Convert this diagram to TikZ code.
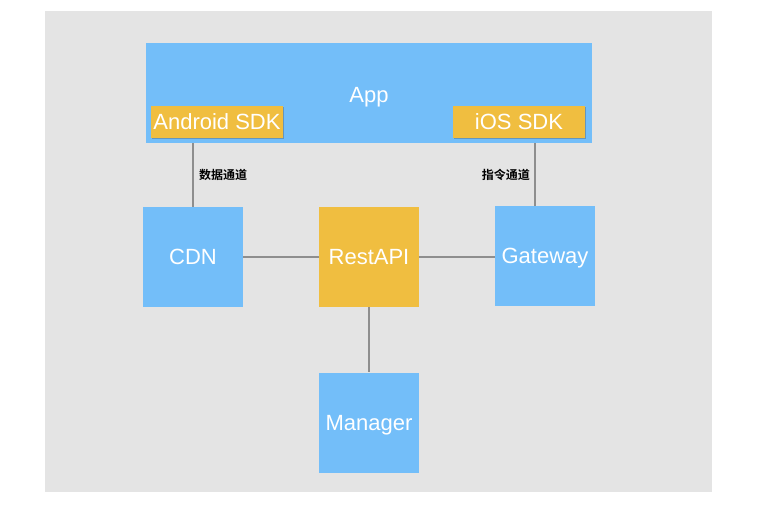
\documentclass[tikz,border=0pt]{standalone}
\usepackage{fontspec}
\setmainfont{Liberation Sans}
\newfontfamily\cjk{Noto Sans CJK SC}[BoldFont={* Bold}]
\usetikzlibrary{shadows}
\definecolor{bgc}{RGB}{228,228,228}
\definecolor{bluec}{RGB}{115,190,249}
\definecolor{yellowc}{RGB}{240,190,64}
\definecolor{linec}{RGB}{142,142,142}
\tikzset{
  x=1pt,y=-1pt,
  box/.style={draw=none,inner sep=0pt,text=white,font=\fontsize{22}{24}\selectfont,text height=15.8pt,text depth=0pt},
  bluebox/.style={box,fill=bluec,minimum width=100pt,minimum height=100pt},
  yellowbox/.style={box,fill=yellowc,minimum width=132pt,minimum height=32pt,drop shadow={shadow xshift=0.5pt,shadow yshift=-1pt,opacity=0.35,fill=black!70}},
  conn/.style={draw=linec,line width=1.6pt},
  lbl/.style={font=\cjk\bfseries\fontsize{12}{14}\selectfont,text=black,inner sep=0pt}
}
\begin{document}
\begin{tikzpicture}
\useasboundingbox (0,0) rectangle (760,507);
\fill[white] (0,0) rectangle (760,507);
\fill[bgc] (45,11) rectangle (712,492);
\node[box,fill=bluec,minimum width=446pt,minimum height=100pt] (app) at (369,93) {};
\node[box,anchor=center] (apptext) at (369,95) {App};
\node[yellowbox] (android) at (217,122) {Android SDK};
\node[yellowbox] (ios) at (519,122) {iOS SDK};
\node[bluebox] (cdn) at (193,257) {CDN};
\node[box,fill=yellowc,minimum width=100pt,minimum height=100pt] (rest) at (369,257) {RestAPI};
\node[bluebox] (gw) at (545,256) {Gateway};
\node[bluebox] (mgr) at (369,422.5) {Manager};
\draw[conn] (app.south -| cdn.north) -- (cdn.north);
\draw[conn] ([xshift=-10pt]gw.north) -- ([xshift=-10pt]gw.north |- app.south);
\draw[conn] (cdn.east |- rest.west) -- (rest.west);
\draw[conn] (rest.east) -- (gw.west |- rest.east);
\draw[conn] (rest.south) -- (mgr.north);
\node[lbl,anchor=west] (l1) at (199,175) {数据通道};
\node[lbl,anchor=east] (l2) at (530,175) {指令通道};
\end{tikzpicture}
\end{document}
